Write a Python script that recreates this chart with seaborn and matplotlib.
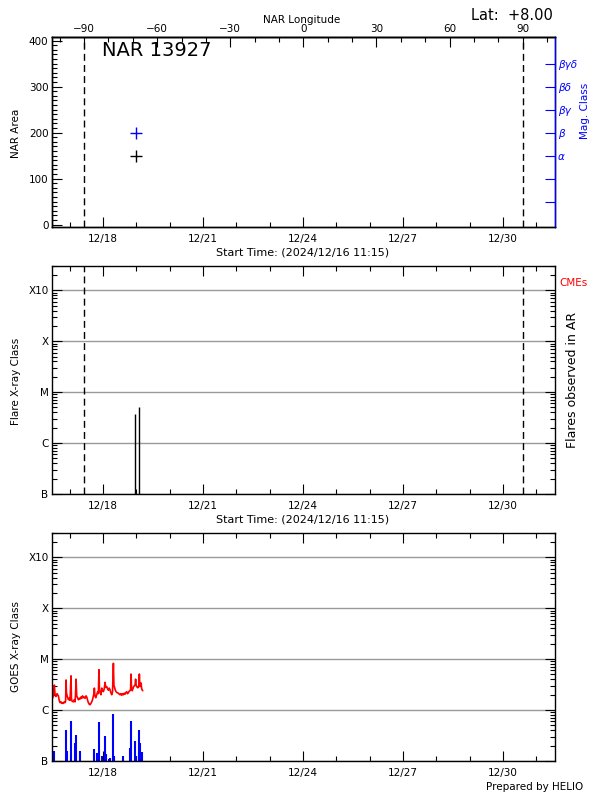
import pandas as pd
import seaborn as sns
import matplotlib.pyplot as plt
import matplotlib.dates as mdates
from matplotlib.ticker import MultipleLocator, FixedLocator, FixedFormatter, LogLocator, NullFormatter

# Plain white style, inward ticks like the IDL original.
sns.set_theme(style="ticks")
plt.rcParams.update({
    'font.family': ['DejaVu Sans'],
    'font.size': 7.5,
    'text.color': 'black',
    'axes.labelcolor': 'black',
    'axes.linewidth': 1.0,
    'axes.edgecolor': 'black',
    'xtick.color': 'black',
    'ytick.color': 'black',
    'xtick.labelsize': 7.5,
    'ytick.labelsize': 7.5,
    'xtick.major.size': 7,
    'ytick.major.size': 7,
    'xtick.minor.size': 3.5,
    'ytick.minor.size': 3.5,
    'xtick.major.width': 0.8,
    'ytick.major.width': 0.8,
    'xtick.minor.width': 0.8,
    'ytick.minor.width': 0.8,
    'xtick.major.pad': 5,
    'ytick.major.pad': 2.5,
})

# ---- values ----
start_time = pd.Timestamp('2024-12-16 11:15')
span_days = 15.09
region_title = 'NAR 13927'
latitude_text = 'Lat:  +8.00'

# top axis longitude: region crosses central meridian 7.54 days after start
cm_days = 7.54
deg_per_day = 13.68
limb_days = [0.96, 14.12]
lon_ticks = [-90, -60, -30, 0, 30, 60, 90]
lon_minor = [-100, -80, -70, -50, -40, -20, -10, 10, 20, 40, 50, 70, 80, 100]

# NAR panel
nar_hours = [60.7]
nar_area = [150]
mag_hours = [60.7]
mag_level = [200]
mag_ticks = [50, 100, 150, 200, 250, 300, 350]
mag_labels = ['', '', 'α', 'β', 'βγ', 'βδ', 'βγδ']

# flares seen in the region (multiples of C class)
flare_hours = [60.0, 62.9]
flare_c = [3.8, 5.1]

# GOES long channel (multiples of C class)
goes_hours = [0.0, 0.5, 1.0, 1.7, 2.2, 2.9, 3.6, 4.6, 5.2, 5.8, 6.5, 7.0, 7.6, 8.2, 8.8,
              9.4, 9.8, 10.1, 10.4, 10.9, 11.8, 12.4, 13.0, 13.7, 14.0, 14.4, 15.4, 16.0,
              16.6, 17.0, 17.3, 17.8, 18.4, 19.0, 19.6, 20.2, 20.8, 21.4, 22.0, 22.6, 23.2,
              23.8, 24.5, 25.2, 25.8, 26.2, 26.8, 27.4, 28.0, 28.6, 29.2, 29.8, 30.2, 30.5,
              30.9, 31.5, 32.2, 32.9, 33.4, 33.8, 34.2, 34.6, 35.2, 35.8, 36.4, 37.0, 37.6,
              38.2, 38.6, 39.4, 40.0, 40.6, 41.2, 41.8, 42.4, 43.0, 43.6, 44.2, 44.6, 44.9,
              45.5, 46.1, 46.8, 47.8, 48.4, 49.0, 49.6, 50.2, 50.8, 51.4, 52.0, 52.6, 53.2,
              53.8, 54.4, 55.0, 55.6, 56.2, 56.6, 56.9, 57.3, 57.8, 58.6, 59.2, 59.8, 60.2,
              60.6, 61.0, 61.6, 62.2, 62.6, 62.9, 63.2, 63.4, 64.1, 64.6, 65.3]
goes_c = [1.6, 1.75, 1.9, 3.1, 2.0, 1.85, 2.1, 1.9, 1.55, 1.4, 1.45, 1.35, 1.4, 1.35, 1.45,
          1.4, 1.5, 3.9, 2.2, 1.9, 1.6, 1.7, 1.55, 4.7, 1.7, 1.5, 1.45, 1.6,
          1.45, 2.2, 4.05, 1.9, 1.75, 1.6, 1.7, 1.65, 1.8, 1.7, 1.9, 1.75, 1.8,
          1.7, 1.9, 1.75, 1.5, 1.4, 1.3, 1.27, 1.35, 1.45, 1.6, 1.9, 2.1, 2.7,
          1.9, 1.75, 2.0, 2.3, 2.1, 6.2, 2.4, 2.3, 2.0, 2.7, 2.4, 2.3, 2.6,
          3.5, 2.8, 2.9, 2.6, 2.45, 2.7, 2.5, 2.2, 2.0, 2.3, 8.3, 3.0, 2.9,
          2.5, 2.3, 2.2, 2.15, 2.05, 2.0, 2.1, 1.95, 2.1, 2.0, 2.15, 2.05, 2.2,
          2.3, 2.1, 2.2, 2.35, 2.4, 2.6, 5.1, 2.6, 2.4, 2.8, 3.0, 3.1, 4.05,
          3.0, 2.9, 2.75, 2.8, 3.3, 5.1, 3.2, 2.9, 3.4, 2.6, 2.4]

# GOES short channel spikes (multiples of B class)
short_hours = [1.7, 10.1, 11.0, 13.7, 16.6, 17.5, 20.4, 30.5, 32.4, 34.1, 36.0, 37.9, 38.4,
               39.1, 41.3, 42.0, 44.2, 44.9, 51.4, 56.4, 57.1, 60.0, 60.7, 62.4, 62.9, 63.4,
               64.1, 64.6]
short_b = [1.57, 4.0, 1.57, 6.0, 2.25, 3.19, 1.57, 1.69, 1.44, 5.74, 1.24, 3.05, 1.5,
           1.4, 1.1, 1.15, 8.2, 1.25, 1.25, 1.8, 6.0, 2.47, 1.25, 1.45, 4.0, 2.25,
           1.5, 1.5]

xray_ticks = [1e-7, 1e-6, 1e-5, 1e-4, 1e-3]
xray_labels = ['B', 'C', 'M', 'X', 'X10']


def to_time(hours):
    return start_time + pd.to_timedelta(hours, unit='h')


def box(top, bottom):
    # pixel rows of an axes box -> figure fractions
    return [52 / 600, 1 - bottom / 800, 503 / 600, (bottom - top) / 800]


def fig_text(x, y, s, **kw):
    fig.text(x / 600, 1 - y / 800, s, **kw)


def time_axis(ax, top_ticks=True):
    ax.set_xlim(mdates.date2num(start_time), mdates.date2num(start_time + pd.Timedelta(days=span_days)))
    ax.xaxis.set_major_locator(mdates.DayLocator(bymonthday=[18, 21, 24, 27, 30]))
    ax.xaxis.set_minor_locator(mdates.DayLocator())
    ax.xaxis.set_major_formatter(mdates.DateFormatter('%m/%d'))
    ax.tick_params(axis='x', which='both', direction='in', bottom=True, top=top_ticks)
    ax.set_xlabel('')


def xray_axis(ax):
    ax.set_yscale('log')
    ax.set_ylim(1e-7, 3e-3)
    ax.yaxis.set_major_locator(FixedLocator(xray_ticks))
    ax.yaxis.set_major_formatter(FixedFormatter(xray_labels))
    ax.yaxis.set_minor_locator(LogLocator(base=10, subs=[2, 3, 4, 5, 6, 7, 8, 9], numticks=20))
    ax.yaxis.set_minor_formatter(NullFormatter())
    ax.grid(axis='y', which='major', color='#999999', lw=1)
    ax.tick_params(axis='y', which='both', direction='in', left=True, right=True)
    ax.set_ylabel('')


def limb_lines(ax):
    for d in limb_days:
        ax.axvline(mdates.date2num(start_time + pd.Timedelta(days=d)), color='black', lw=1, ls=(0, (5, 3)))


fig = plt.figure(figsize=(6, 8), dpi=100)

# ---- NAR area / magnetic class ----
ax1 = fig.add_axes(box(37, 227))
nar_df = pd.DataFrame({'time': to_time(nar_hours), 'area': nar_area})
mag_df = pd.DataFrame({'time': to_time(mag_hours), 'level': mag_level})
sns.scatterplot(data=nar_df, x='time', y='area', marker='+', s=80, color='black', linewidth=1, ax=ax1)
sns.scatterplot(data=mag_df, x='time', y='level', marker='+', s=80, color='blue', linewidth=1, ax=ax1)
limb_lines(ax1)
time_axis(ax1, top_ticks=False)
ax1.set_ylim(-5, 408)
ax1.yaxis.set_major_locator(MultipleLocator(100))
ax1.yaxis.set_minor_locator(MultipleLocator(10))
ax1.tick_params(axis='y', which='both', direction='in', left=True, right=False)
ax1.set_ylabel('')

s0 = mdates.date2num(start_time)
sec = ax1.secondary_xaxis('top', functions=(lambda t: (t - s0 - cm_days) * deg_per_day,
                                            lambda lon: lon / deg_per_day + s0 + cm_days))
sec.xaxis.set_major_locator(FixedLocator(lon_ticks))
sec.xaxis.set_minor_locator(FixedLocator(lon_minor))
sec.tick_params(which='both', direction='in', pad=2)

ax1r = ax1.twinx()
ax1r.set_ylim(ax1.get_ylim())
ax1r.yaxis.set_major_locator(FixedLocator(mag_ticks))
ax1r.yaxis.set_major_formatter(FixedFormatter(mag_labels))
ax1r.tick_params(axis='y', direction='in', colors='blue', length=7, width=0.8, pad=2)
for lab in ax1r.get_yticklabels():
    lab.set_fontstyle('italic')
ax1r.spines['right'].set_color('blue')

# ---- flares in the region ----
ax2 = fig.add_axes(box(266, 494))
ax2.vlines(to_time(flare_hours), 1e-7, [c * 1e-6 for c in flare_c], color='black', lw=1)
xray_axis(ax2)
limb_lines(ax2)
time_axis(ax2)

# ---- GOES X-ray flux ----
ax3 = fig.add_axes(box(533, 761))
goes_df = pd.DataFrame({'time': to_time(goes_hours), 'flux': [c * 1e-6 for c in goes_c]})
ax3.vlines(to_time(short_hours), 1e-7, [b * 1e-7 for b in short_b], color='blue', lw=1.5)
sns.lineplot(data=goes_df, x='time', y='flux', color='red', lw=1.2, ax=ax3)
xray_axis(ax3)
time_axis(ax3)

# ---- text around the panels ----
fig_text(302, 20, 'NAR Longitude', ha='center', va='center', fontsize=7.5)
fig_text(553, 15, latitude_text, ha='right', va='center', fontsize=10.5)
fig_text(102, 51, region_title, ha='left', va='center', fontsize=14)
fig_text(16, 133, 'NAR Area', rotation=90, ha='center', va='center', fontsize=7.5)
fig_text(585, 111, 'Mag. Class', rotation=90, ha='center', va='center', fontsize=7.5, color='blue')
fig_text(303, 253, 'Start Time: (2024/12/16 11:15)', ha='center', va='center', fontsize=8)
fig_text(16, 381, 'Flare X-ray Class', rotation=90, ha='center', va='center', fontsize=7.5)
fig_text(574, 283, 'CMEs', ha='center', va='center', fontsize=7.5, color='red')
fig_text(572, 380, 'Flares observed in AR', rotation=90, ha='center', va='center', fontsize=9)
fig_text(303, 520, 'Start Time: (2024/12/16 11:15)', ha='center', va='center', fontsize=8)
fig_text(16, 647, 'GOES X-ray Class', rotation=90, ha='center', va='center', fontsize=7.5)
fig_text(583, 787, 'Prepared by HELIO', ha='right', va='center', fontsize=7.5)

fig.savefig('out.png', dpi=100)
